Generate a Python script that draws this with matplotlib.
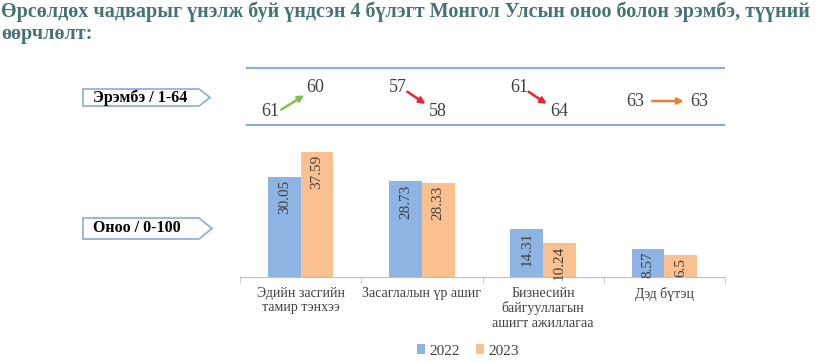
import matplotlib.pyplot as plt
from matplotlib.patches import Polygon
import numpy as np

# Өгөгдөл
categories = ['Эдийн засгийн\nтамир тэнхээ', 'Засаглалын үр ашиг',
              'Бизнесийн\nбайгууллагын\nашигт ажиллагаа', 'Дэд бүтэц']
score_2022 = [30.05, 28.73, 14.31, 8.57]
score_2023 = [37.59, 28.33, 10.24, 6.5]
rank_2022 = [61, 57, 61, 63]
rank_2023 = [60, 58, 64, 63]
years = ['2022', '2023']

title = ('Өрсөлдөх чадварыг үнэлж буй үндсэн 4 бүлэгт Монгол Улсын оноо болон эрэмбэ, түүний\n'
         'өөрчлөлт:')

plt.rcParams['font.family'] = ['Liberation Serif', 'DejaVu Serif']

W, H = 825, 362
fig = plt.figure(figsize=(W / 100, H / 100), dpi=100)


def box(x0, y0, x1, y1):
    # пикселээс figure fraction руу
    return [x0 / W, 1 - y1 / H, (x1 - x0) / W, (y1 - y0) / H]


c_blue = '#8eb4e3'
c_orange = '#fac08f'
c_text = '#404040'
c_line = '#8eaadb'

fig.text(1 / W, 1 - 1 / H, title, ha='left', va='top', fontsize=14.5,
         fontweight='bold', color='#467373', linespacing=1.15)

# Оноо - баганан график
ax = fig.add_axes(box(240, 144, 725, 277))
x = np.arange(len(categories))
w = 0.27
b1 = ax.bar(x - w / 2, score_2022, w, color=c_blue, label=years[0])
b2 = ax.bar(x + w / 2, score_2023, w, color=c_orange, label=years[1])
for bars, vals in [(b1, score_2022), (b2, score_2023)]:
    for r, v in zip(bars, vals):
        ax.annotate(f'{v:g}', (r.get_x() + r.get_width() / 2, v), xytext=(0, -2),
                    textcoords='offset points', rotation=90, ha='center', va='top',
                    fontsize=11, color=c_text)
ax.set_xlim(-0.5, 3.5)
ax.set_ylim(0, 40)
ax.set_yticks([])
for s in ['top', 'right', 'left']:
    ax.spines[s].set_visible(False)
ax.spines['bottom'].set_color('#bfbfbf')
ax.set_xticks(x)
ax.set_xticklabels(categories, fontsize=10, color=c_text, linespacing=1.15)
ax.tick_params(axis='x', length=0, pad=7)
ax.set_xticks(np.arange(-0.5, 4, 1), minor=True)
ax.tick_params(axis='x', which='minor', length=4, color='#bfbfbf')

fig.legend(handles=[b1, b2], loc='center', bbox_to_anchor=(468 / W, 1 - 351 / H),
           ncol=2, frameon=False, fontsize=11, handlelength=0.55, handleheight=0.55,
           handletextpad=0.3, columnspacing=1.0, labelcolor=c_text)

# Эрэмбэ
ar = fig.add_axes(box(240, 60, 725, 132))
ar.set_xlim(-0.5, 3.5)
ar.set_ylim(0, 1)
ar.axis('off')
for yy in [0.889, 0.097]:
    ar.plot([-0.44, 3.5], [yy, yy], color=c_line, lw=1.5)

hi, lo, mid = 0.62, 0.28, 0.43
for i, (r0, r1) in enumerate(zip(rank_2022, rank_2023)):
    if r1 == r0:
        y0 = y1 = mid
        xl, xr = -0.24, 0.29
        col = '#ed7d31'
        a0, a1 = (-0.1, mid), (0.16, mid)
    elif r1 < r0:
        y0, y1 = lo, hi
        xl, xr = -0.25, 0.12
        col = '#84c04c'
        a0, a1 = (-0.16, 0.31), (0.03, 0.51)
    else:
        y0, y1 = hi, lo
        xl, xr = -0.2, 0.13
        col = '#e8262f'
        a0, a1 = (-0.12, 0.56), (0.03, 0.39)
    ar.text(i + xl, y0, str(r0), ha='center', va='center', fontsize=13, color=c_text)
    ar.text(i + xr, y1, str(r1), ha='center', va='center', fontsize=13, color=c_text)
    ar.annotate('', xy=(i + a1[0], a1[1]), xytext=(i + a0[0], a0[1]),
                arrowprops=dict(arrowstyle='-|>', color=col, lw=1.8, mutation_scale=9,
                                shrinkA=0, shrinkB=0))

# Зүүн талын шошго
def tag(x0, y0, x1, y1, tip, label):
    pts = [(x0, y0), (x1, y0), (tip, (y0 + y1) / 2), (x1, y1), (x0, y1)]
    pts = [(px / W, 1 - py / H) for px, py in pts]
    fig.patches.append(Polygon(pts, closed=True, transform=fig.transFigure,
                               facecolor='white', edgecolor=c_line, lw=1.2))
    fig.text((x0 + 10) / W, 1 - (y0 + y1) / 2 / H, label, ha='left', va='center',
             fontsize=11.5, fontweight='bold', color='black')


tag(83, 89, 199, 106, 210, 'Эрэмбэ / 1-64')
tag(83, 218, 199, 239, 212, 'Оноо / 0-100')

fig.savefig('out.png', dpi=100)
